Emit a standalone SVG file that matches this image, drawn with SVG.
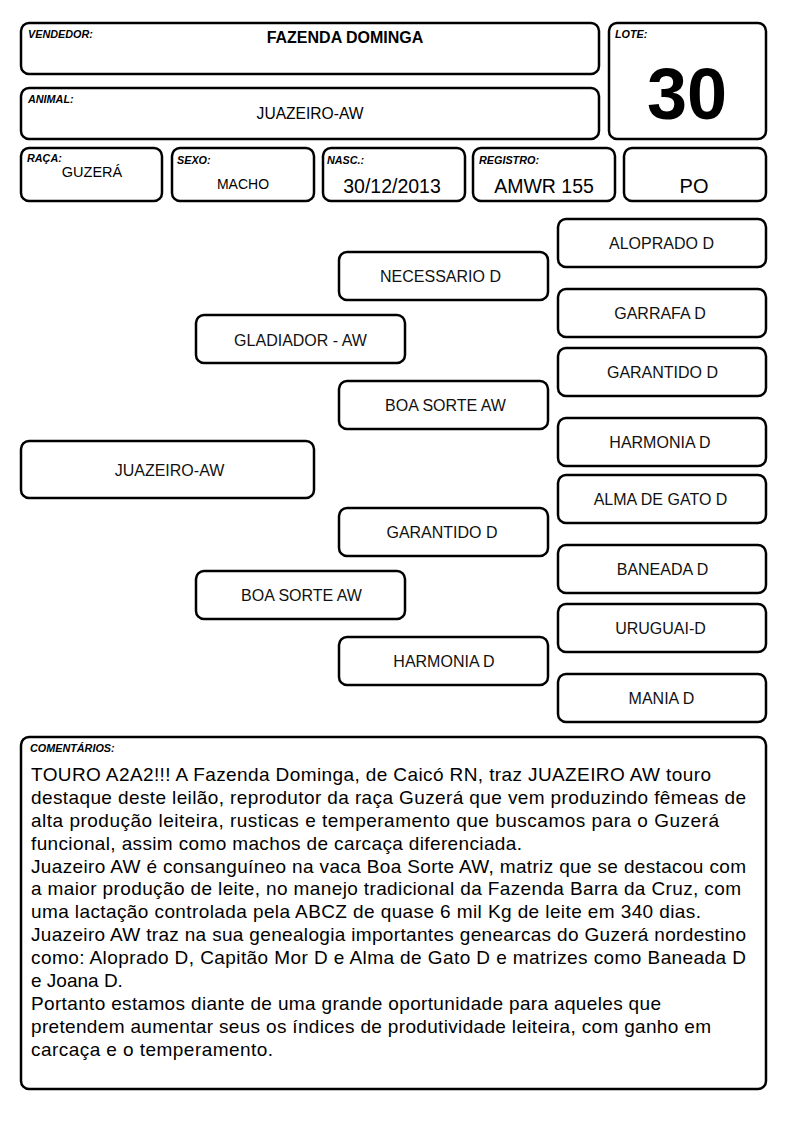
<svg xmlns="http://www.w3.org/2000/svg" width="794" height="1123" viewBox="0 0 794 1123">
<style>
.box{fill:#fff;stroke:#000;stroke-width:2.5}
.lbl{font-family:"Liberation Sans",Arial,sans-serif;font-size:10.8px;font-weight:bold;font-style:italic;fill:#000}
.val{font-family:"Liberation Sans",Arial,sans-serif;fill:#000;text-anchor:middle}
.node{font-family:"Liberation Sans",Arial,sans-serif;font-size:16px;fill:#111;text-anchor:middle}
.cm{font-family:"Liberation Sans",Arial,sans-serif;font-size:19px;fill:#000}
</style>
<rect width="794" height="1123" fill="#fff"/>
<g id="vendedor"><rect class="box" x="21" y="23" width="578" height="51" rx="8"/><text class="lbl" x="28" y="38">VENDEDOR:</text><text class="val" x="345" y="43" font-size="16" font-weight="bold">FAZENDA DOMINGA</text></g>
<g id="lote"><rect class="box" x="609" y="23" width="157" height="116" rx="8"/><text class="lbl" x="615" y="38">LOTE:</text><text class="val" x="687" y="119" font-size="72" font-weight="bold">30</text></g>
<g id="animal"><rect class="box" x="21" y="88" width="578" height="51" rx="8"/><text class="lbl" x="28" y="103">ANIMAL:</text><text class="val" x="310" y="119" font-size="15.6">JUAZEIRO-AW</text></g>
<g id="raca"><rect class="box" x="21" y="148" width="141" height="53" rx="8"/><text class="lbl" x="27" y="162">RAÇA:</text><text class="val" x="92" y="177" font-size="14.5">GUZERÁ</text></g>
<g id="sexo"><rect class="box" x="172" y="148" width="142" height="53" rx="8"/><text class="lbl" x="177" y="164">SEXO:</text><text class="val" x="243" y="189" font-size="14">MACHO</text></g>
<g id="nasc"><rect class="box" x="323" y="148" width="142" height="53" rx="8"/><text class="lbl" x="327" y="164">NASC.:</text><text class="val" x="392" y="193" font-size="19.5">30/12/2013</text></g>
<g id="registro"><rect class="box" x="473" y="148" width="142" height="53" rx="8"/><text class="lbl" x="479" y="164">REGISTRO:</text><text class="val" x="544" y="193" font-size="19.5">AMWR 155</text></g>
<g id="po"><rect class="box" x="624" y="148" width="142" height="53" rx="8"/><text class="val" x="694" y="193" font-size="20">PO</text></g>
<g id="connectors"></g>
<g id="n-aloprado"><rect class="box" x="558" y="219" width="208" height="48" rx="8"/><text class="node" x="661.5" y="249">ALOPRADO D</text></g>
<g id="n-necessario"><rect class="box" x="339" y="252" width="209" height="48" rx="8"/><text class="node" x="440.5" y="282">NECESSARIO D</text></g>
<g id="n-garrafa"><rect class="box" x="558" y="289" width="208" height="48" rx="8"/><text class="node" x="660" y="319">GARRAFA D</text></g>
<g id="n-gladiador"><rect class="box" x="196" y="315" width="209" height="48" rx="8"/><text class="node" x="300.5" y="346">GLADIADOR - AW</text></g>
<g id="n-garantido1"><rect class="box" x="558" y="348" width="208" height="48" rx="8"/><text class="node" x="662.5" y="378">GARANTIDO D</text></g>
<g id="n-boasorte1"><rect class="box" x="339" y="381" width="209" height="48" rx="8"/><text class="node" x="445.5" y="411">BOA SORTE AW</text></g>
<g id="n-harmonia1"><rect class="box" x="558" y="418" width="208" height="48" rx="8"/><text class="node" x="660" y="448">HARMONIA D</text></g>
<g id="n-juazeiro"><rect class="box" x="21" y="441" width="293" height="57" rx="8"/><text class="node" x="169.5" y="476">JUAZEIRO-AW</text></g>
<g id="n-almadegato"><rect class="box" x="558" y="475" width="208" height="48" rx="8"/><text class="node" x="660.5" y="505">ALMA DE GATO D</text></g>
<g id="n-garantido2"><rect class="box" x="339" y="508" width="209" height="48" rx="8"/><text class="node" x="442" y="538">GARANTIDO D</text></g>
<g id="n-baneada"><rect class="box" x="558" y="545" width="208" height="48" rx="8"/><text class="node" x="662.5" y="575">BANEADA D</text></g>
<g id="n-boasorte2"><rect class="box" x="196" y="571" width="209" height="48" rx="8"/><text class="node" x="301.5" y="601">BOA SORTE AW</text></g>
<g id="n-uruguai"><rect class="box" x="558" y="604" width="208" height="48" rx="8"/><text class="node" x="660.5" y="634">URUGUAI-D</text></g>
<g id="n-harmonia2"><rect class="box" x="339" y="637" width="209" height="48" rx="8"/><text class="node" x="444" y="667">HARMONIA D</text></g>
<g id="n-mania"><rect class="box" x="558" y="674" width="208" height="48" rx="8"/><text class="node" x="661.5" y="704">MANIA D</text></g>
<g id="comentarios"><rect class="box" x="21" y="737" width="745" height="352" rx="8"/>
<text class="lbl" x="30" y="752" font-size="10.5">COMENTÁRIOS:</text>
<text class="cm" x="31" y="781" textLength="680" lengthAdjust="spacing">TOURO A2A2!!! A Fazenda Dominga, de Caicó RN, traz JUAZEIRO AW touro</text>
<text class="cm" x="31" y="804" textLength="715" lengthAdjust="spacing">destaque deste leilão, reprodutor da raça Guzerá que vem produzindo fêmeas de</text>
<text class="cm" x="31" y="827" textLength="688" lengthAdjust="spacing">alta produção leiteira, rusticas e temperamento que buscamos para o Guzerá</text>
<text class="cm" x="31" y="850" textLength="491" lengthAdjust="spacing">funcional, assim como machos de carcaça diferenciada.</text>
<text class="cm" x="31" y="873" textLength="715" lengthAdjust="spacing">Juazeiro AW é consanguíneo na vaca Boa Sorte AW, matriz que se destacou com</text>
<text class="cm" x="31" y="895" textLength="710" lengthAdjust="spacing">a maior produção de leite, no manejo tradicional da Fazenda Barra da Cruz, com</text>
<text class="cm" x="31" y="918" textLength="670" lengthAdjust="spacing">uma lactação controlada pela ABCZ de quase 6 mil Kg de leite em 340 dias.</text>
<text class="cm" x="31" y="941" textLength="715" lengthAdjust="spacing">Juazeiro AW traz na sua genealogia importantes genearcas do Guzerá nordestino</text>
<text class="cm" x="31" y="964" textLength="715" lengthAdjust="spacing">como: Aloprado D, Capitão Mor D e Alma de Gato D e matrizes como Baneada D</text>
<text class="cm" x="31" y="987">e Joana D.</text>
<text class="cm" x="31" y="1010" textLength="630" lengthAdjust="spacing">Portanto estamos diante de uma grande oportunidade para aqueles que</text>
<text class="cm" x="31" y="1033" textLength="680" lengthAdjust="spacing">pretendem aumentar seus os índices de produtividade leiteira, com ganho em</text>
<text class="cm" x="31" y="1056" textLength="242" lengthAdjust="spacing">carcaça e o temperamento.</text>
</g>
</svg>
